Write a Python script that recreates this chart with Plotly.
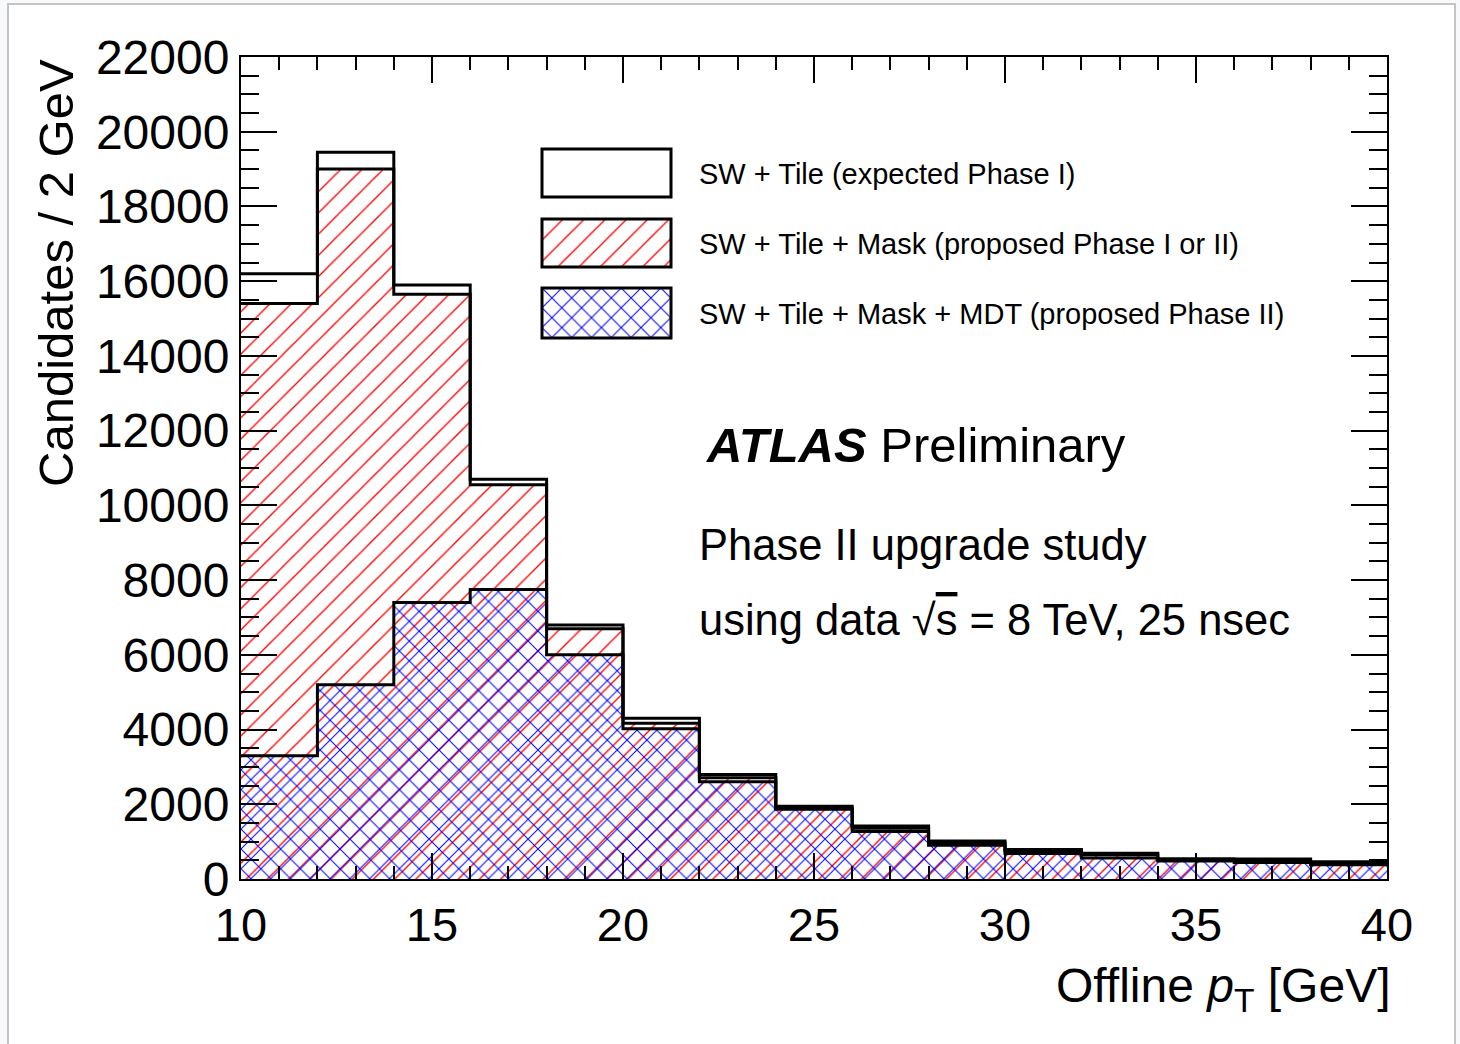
import numpy as np
import plotly.graph_objects as go

# Histogram binning: offline pT, 2 GeV bins from 10 to 40 GeV
bin_edges = list(range(10, 42, 2))

# Candidates per 2 GeV bin for each trigger configuration
sw_tile = [16200, 19450, 15900, 10700, 6800, 4300, 2800, 1950, 1420, 1020, 790, 690, 540, 535, 460]
sw_tile_mask = [15400, 19000, 15650, 10550, 6700, 4170, 2710, 1890, 1360, 970, 750, 650, 515, 505, 435]
sw_tile_mask_mdt = [3300, 5200, 7400, 7750, 6000, 4020, 2600, 1870, 1270, 900, 680, 560, 480, 440, 380]

legend_labels = [
    "SW + Tile (expected Phase I)",
    "SW + Tile + Mask (proposed Phase I or II)",
    "SW + Tile + Mask + MDT (proposed Phase II)",
]

FONT = "Liberation Sans, Arial, Helvetica, sans-serif"
W, H = 1460, 1044
L, R, T, B = 241, 73, 57, 165
PW, PH = W - L - R, H - T - B

edges = np.array(bin_edges, dtype=float)
centers = 0.5 * (edges[:-1] + edges[1:])
widths = np.diff(edges)

red_pattern = dict(shape="/", fgcolor="#ff0000", bgcolor="rgba(0,0,0,0)",
                   size=15, solidity=0.09, fillmode="replace")
blue_pattern = dict(shape="x", fgcolor="#0000ff", bgcolor="rgba(0,0,0,0)",
                    size=14, solidity=0.14, fillmode="replace")

fig = go.Figure()

# hatched fills
fig.add_trace(go.Bar(x=centers, y=sw_tile_mask, width=widths,
                     marker=dict(color="rgba(0,0,0,0)", pattern=red_pattern,
                                 line=dict(width=0)),
                     showlegend=False, hoverinfo="skip"))
fig.add_trace(go.Bar(x=centers, y=sw_tile_mask_mdt, width=widths,
                     marker=dict(color="rgba(0,0,0,0)", pattern=blue_pattern,
                                 line=dict(width=0)),
                     showlegend=False, hoverinfo="skip"))

# histogram contours (steps only)
for vals in (sw_tile, sw_tile_mask, sw_tile_mask_mdt):
    fig.add_trace(go.Scatter(x=edges, y=list(vals) + [vals[-1]], mode="lines",
                             line=dict(color="black", width=3, shape="hv"),
                             showlegend=False, hoverinfo="skip"))


def px_x(x):
    return (x - L) / PW


def px_y(y):
    return (H - B - y) / PH


# legend swatches: one full-height bar per small auxiliary subplot, framed by a box
swatch_x = [px_x(542), px_x(671)]
swatch_rows = [(149, 197), (219, 267), (288, 338)]
swatch_fill = [None, red_pattern, blue_pattern]
shapes = [dict(type="rect", xref="paper", yref="paper", layer="below",
               x0=px_x(8), x1=px_x(1455), y0=px_y(1060), y1=px_y(4),
               fillcolor="white", line=dict(color="#c4c4c4", width=2))]
for i, ((y0, y1), pat) in enumerate(zip(swatch_rows, swatch_fill)):
    xa, ya = f"x{i + 2}", f"y{i + 2}"
    marker = dict(color="white" if pat is None else "rgba(0,0,0,0)", line=dict(width=0))
    if pat is not None:
        marker["pattern"] = pat
    fig.add_trace(go.Bar(x=[0], y=[1], width=[1], base=[0], xaxis=xa, yaxis=ya,
                         marker=marker, showlegend=False, hoverinfo="skip"))
    fig.layout[f"xaxis{i + 2}"] = dict(domain=swatch_x, range=[-0.5, 0.5], visible=False,
                                       anchor=ya, fixedrange=True)
    fig.layout[f"yaxis{i + 2}"] = dict(domain=[px_y(y1), px_y(y0)], range=[0, 1],
                                       visible=False, anchor=xa, fixedrange=True)
    shapes.append(dict(type="rect", xref="paper", yref="paper", layer="above",
                       x0=swatch_x[0], x1=swatch_x[1], y0=px_y(y1), y1=px_y(y0),
                       line=dict(color="black", width=3)))
    fig.add_annotation(x=px_x(697), y=px_y((y0 + y1) / 2 + 1), xref="paper", yref="paper",
                       xanchor="left", yanchor="middle", showarrow=False,
                       text=legend_labels[i], font=dict(family=FONT, size=29, color="black"))

axis_common = dict(showline=True, linecolor="black", linewidth=2, mirror="allticks",
                   ticks="inside", tickcolor="black", tickwidth=2,
                   showgrid=False, zeroline=False)

fig.update_layout(
    width=W, height=H,
    margin=dict(l=L, r=R, t=T, b=B),
    paper_bgcolor="#f8f9fb", plot_bgcolor="white",
    barmode="overlay", bargap=0,
    xaxis=dict(range=[10, 40], dtick=5, tick0=10, ticklen=26, ticklabelstandoff=4,
               tickfont=dict(family=FONT, size=47, color="black"),
               minor=dict(dtick=1, ticklen=13, tickcolor="black", tickwidth=2, ticks="inside"),
               **axis_common),
    yaxis=dict(range=[0, 22000], dtick=2000, ticklen=36, tickformat="d",
               tickfont=dict(family=FONT, size=48, color="black"),
               minor=dict(dtick=500, ticklen=18, tickcolor="black", tickwidth=2, ticks="inside"),
               **axis_common),
    shapes=shapes,
)

# axis titles
fig.add_annotation(x=1.004, y=px_y(989), xref="paper", yref="paper", xanchor="right",
                   yanchor="middle", showarrow=False,
                   text="Offline <i>p</i><sub>T</sub> [GeV]",
                   font=dict(family=FONT, size=48, color="black"))
fig.add_annotation(x=px_x(56), y=1, xref="paper", yref="paper", xanchor="center",
                   yanchor="top", showarrow=False, textangle=-90,
                   text="Candidates / 2 GeV",
                   font=dict(family=FONT, size=49, color="black"))

# labels inside the frame
fig.add_annotation(x=px_x(704), y=px_y(445), xref="paper", yref="paper", xanchor="left",
                   yanchor="middle", showarrow=False,
                   text="<b><i>ATLAS</i></b> Preliminary",
                   font=dict(family=FONT, size=49, color="black"))
fig.add_annotation(x=px_x(697), y=px_y(545), xref="paper", yref="paper", xanchor="left",
                   yanchor="middle", showarrow=False,
                   text="Phase II upgrade study",
                   font=dict(family=FONT, size=43.5, color="black"))
fig.add_annotation(x=px_x(697), y=px_y(620), xref="paper", yref="paper", xanchor="left",
                   yanchor="middle", showarrow=False,
                   text="using data √<span style='text-decoration:overline'>s</span> = 8 TeV, 25 nsec",
                   font=dict(family=FONT, size=43.5, color="black"))

fig.write_html("out.html")
